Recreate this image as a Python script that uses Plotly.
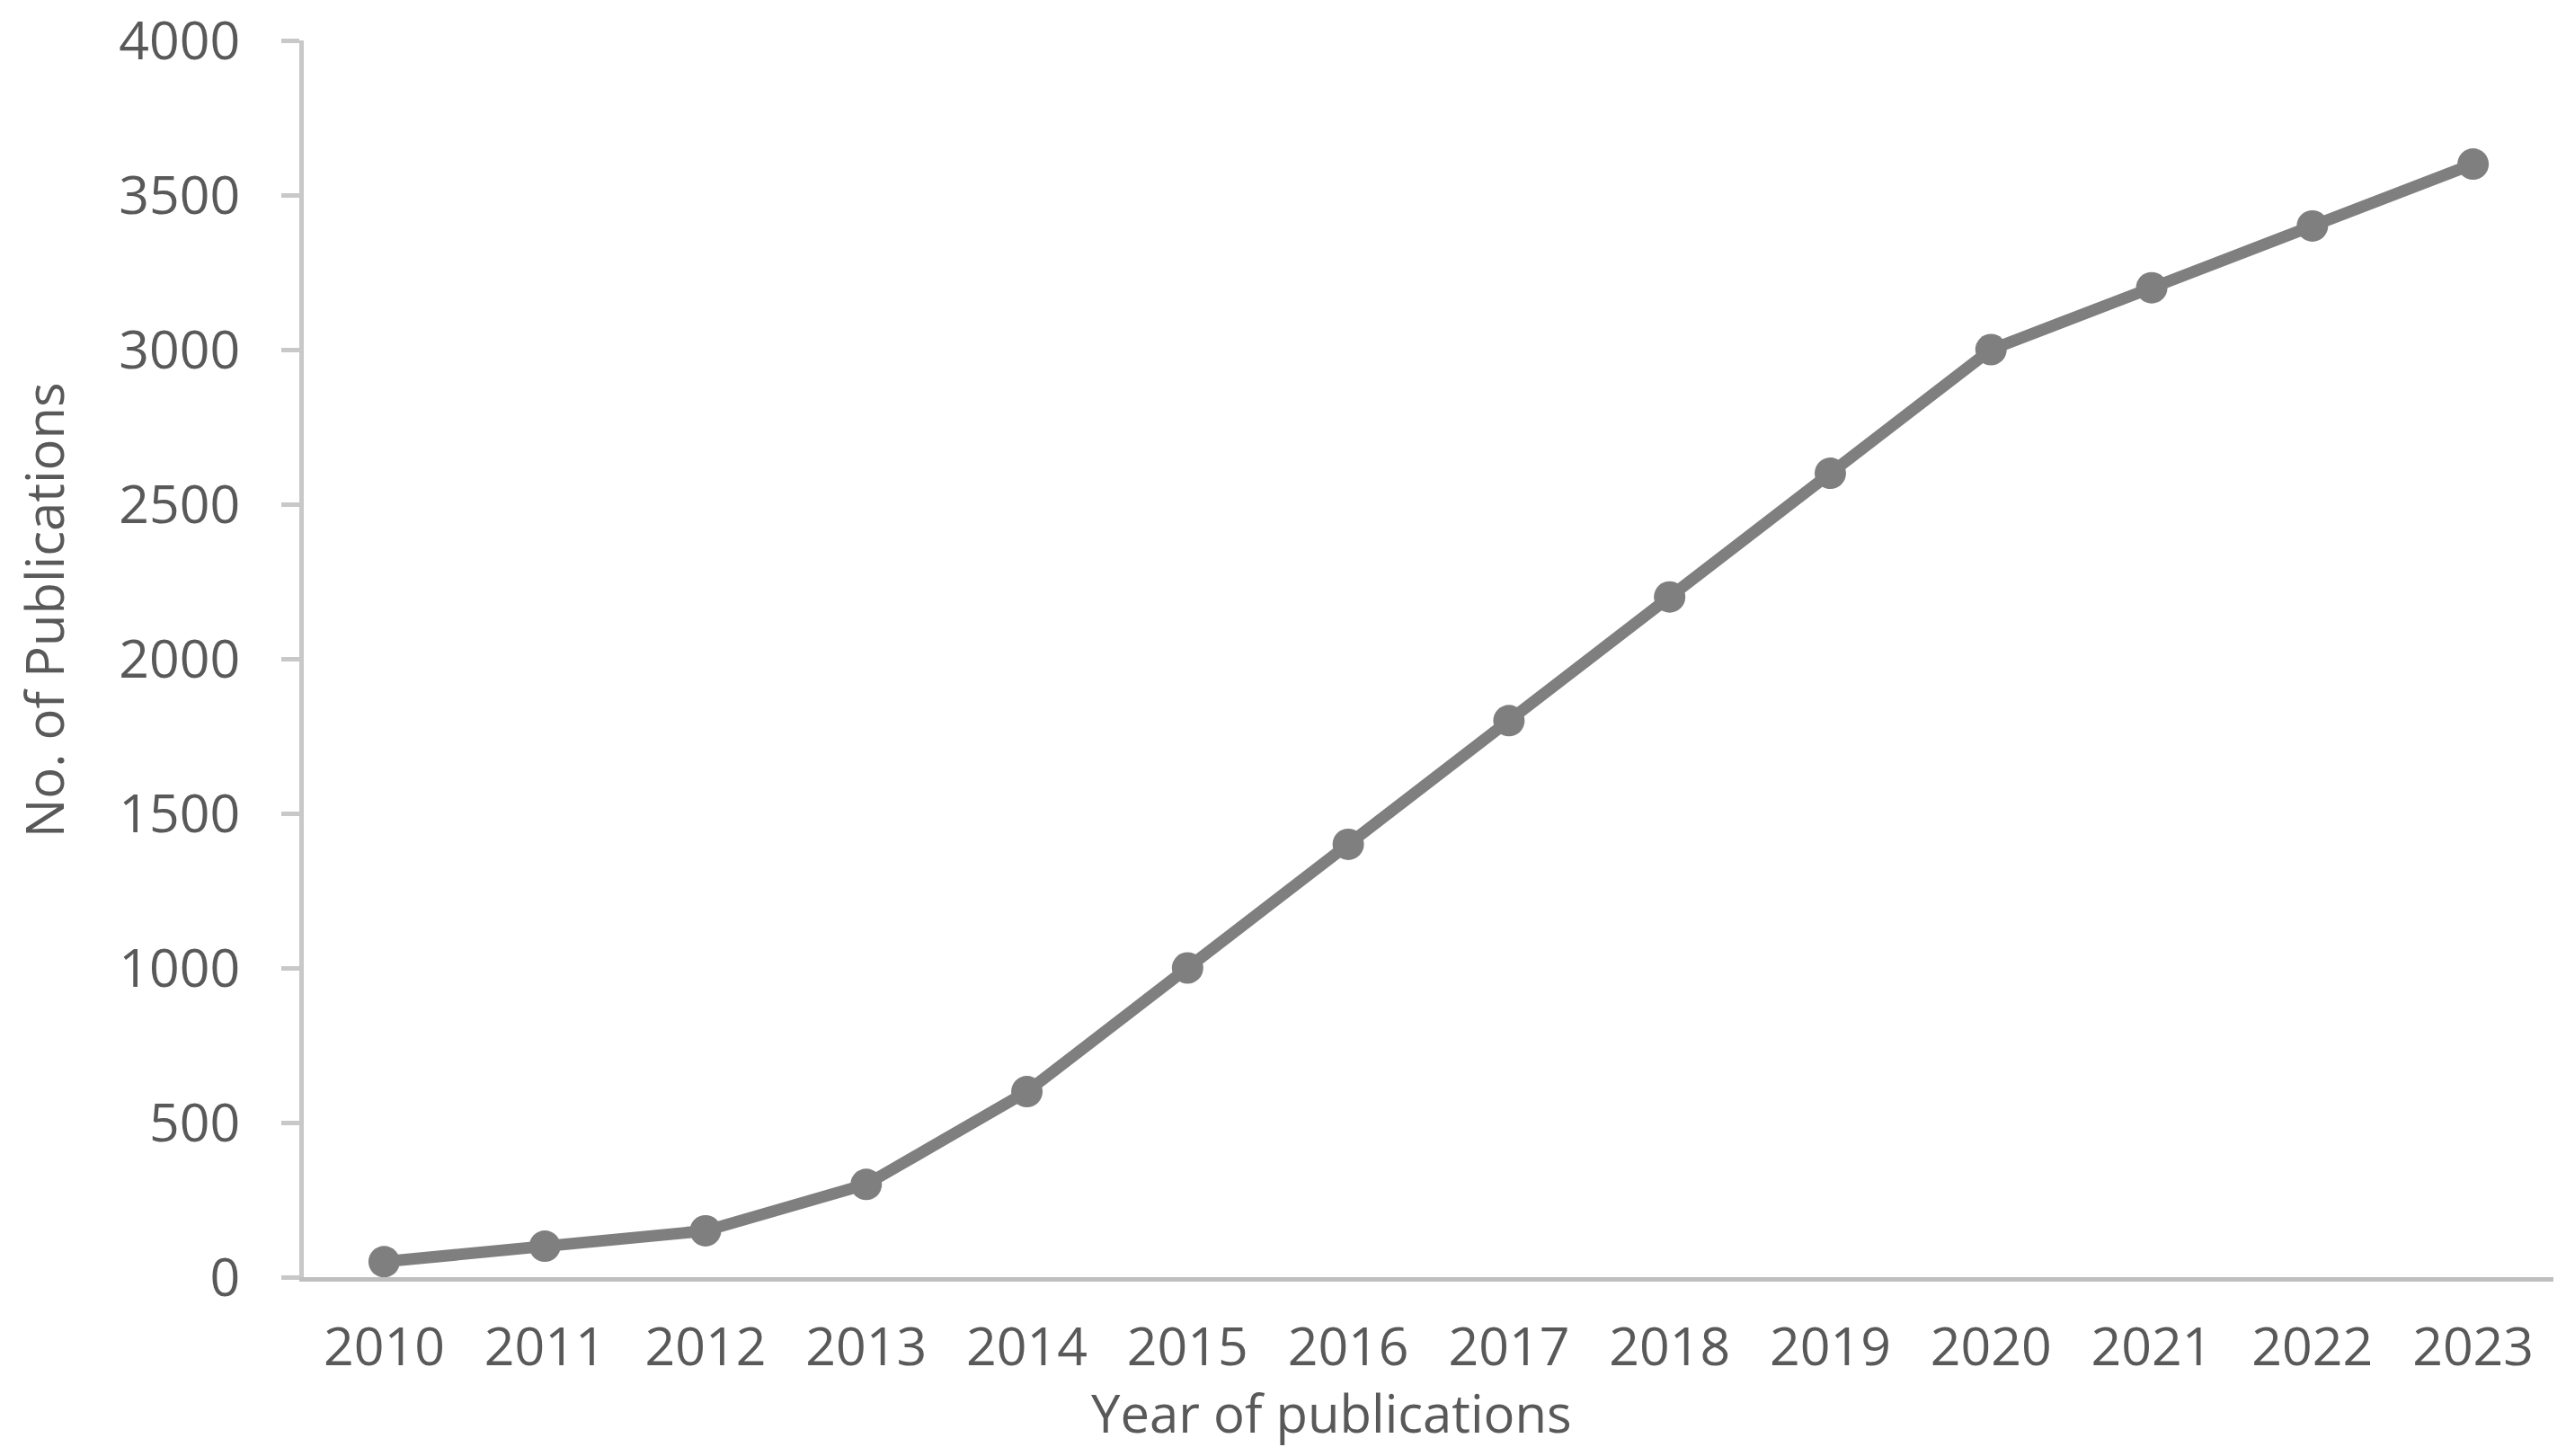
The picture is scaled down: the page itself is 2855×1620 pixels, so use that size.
import plotly.graph_objects as go

# publications per year
years = ["2010", "2011", "2012", "2013", "2014", "2015", "2016",
         "2017", "2018", "2019", "2020", "2021", "2022", "2023"]
publications = [50, 100, 150, 300, 600, 1000, 1400,
                1800, 2200, 2600, 3000, 3200, 3400, 3600]

y_ticks = [0, 500, 1000, 1500, 2000, 2500, 3000, 3500, 4000]

text_color = "#595959"
font_family = "Open Sans"

fig = go.Figure()
fig.add_trace(go.Scatter(
    x=years, y=publications,
    mode="lines+markers",
    line=dict(color="#7F7F7F", width=13),
    marker=dict(color="#7F7F7F", size=35),
    showlegend=False,
))

fig.update_layout(
    width=2855, height=1620,
    margin=dict(l=330, r=22, t=37, b=207),
    plot_bgcolor="white",
    paper_bgcolor="white",
    font=dict(family=font_family, size=59, color=text_color),
)

fig.update_xaxes(
    type="category",
    range=[-0.5, 13.5],
    automargin=False,
    showline=True, linecolor="#BFBFBF", linewidth=5,
    showgrid=False, zeroline=False,
    ticks="", ticklabelstandoff=22,
    tickfont=dict(size=59, color=text_color),
)

fig.update_yaxes(
    range=[0, 4000],
    tickvals=y_ticks,
    automargin=False,
    showline=True, linecolor="#C8C8C8", linewidth=5,
    showgrid=False, zeroline=False,
    ticks="outside", ticklen=20, tickwidth=5, tickcolor="#C8C8C8",
    ticklabelstandoff=34, ticklabeloverflow="allow",
    tickfont=dict(size=59, color=text_color),
)

# axis titles (off-centre in the original, so placed as annotations)
fig.add_annotation(
    text="Year of publications", showarrow=False,
    xref="paper", yref="paper", x=0.457, y=0,
    xanchor="center", yanchor="middle", yshift=-150,
    font=dict(size=58, color=text_color),
)
fig.add_annotation(
    text="No. of Publications", showarrow=False, textangle=-90,
    xref="paper", yref="paper", x=0, y=0.539,
    xanchor="center", yanchor="middle", xshift=-290,
    font=dict(size=58, color=text_color),
)

fig.write_html("out.html")
